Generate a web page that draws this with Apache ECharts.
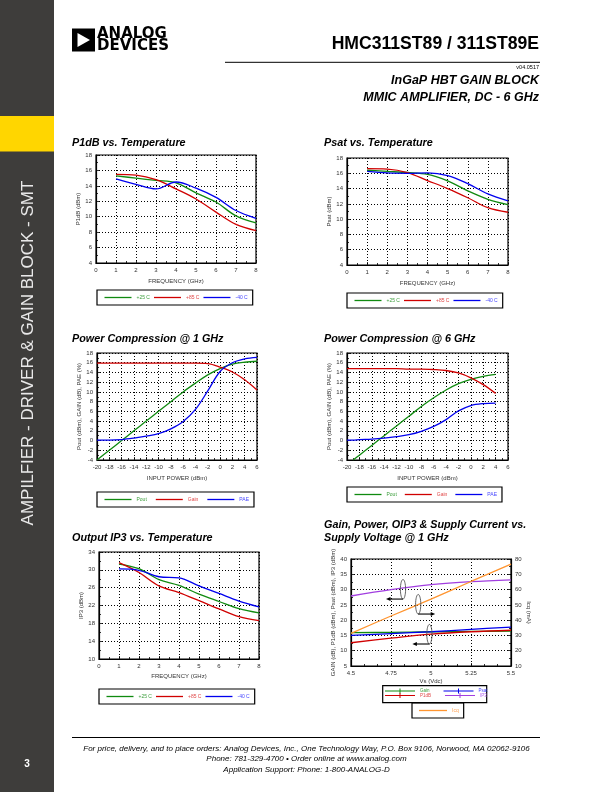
<!DOCTYPE html>
<html><head><meta charset="utf-8">
<script src="https://cdn.jsdelivr.net/npm/echarts@6/dist/echarts.min.js"></script>
<style>html,body{margin:0;padding:0;background:#fff}#c{width:612px;height:792px}</style>
</head><body><div id="c"></div>
<script>
// ---------- data ----------
const freq = [1, 2, 3, 4, 5, 6, 7, 8];
const p1dbP25 = [15.3, 15.0, 14.7, 14.4, 13.1, 11.9, 10.1, 9.2];
const p1dbP85 = [15.5, 15.4, 14.8, 13.6, 12.3, 10.6, 9.0, 8.2];
const p1dbM40 = [14.9, 14.2, 13.6, 14.5, 13.7, 12.5, 10.8, 9.8];
const psatP25 = [16.4, 16.25, 16.1, 15.85, 15.0, 13.7, 12.6, 11.9];
const psatP85 = [16.6, 16.55, 16.1, 15.05, 14.0, 12.8, 11.5, 10.9];
const psatM40 = [16.25, 16.05, 16.0, 16.05, 15.7, 14.65, 13.3, 12.4];
const pin1 = [-20, -18, -16, -14, -12, -10, -8, -6, -4, -2, 0, 2, 4, 6];
const pout1 = [-4, -2, 0, 2, 4, 6, 8, 10, 11.8, 13.5, 14.8, 15.7, 16.1, 16.3];
const gain1 = [15.9, 15.9, 15.9, 15.9, 15.9, 15.9, 15.9, 15.9, 15.9, 15.8, 15.1, 14.1, 12.5, 10.4];
const pae1 = [0.1, 0.1, 0.2, 0.5, 0.9, 1.4, 2.4, 3.9, 6.4, 10.2, 14.2, 16.0, 16.8, 17.1];
const pin6 = [-20, -19, -18, -16, -14, -12, -10, -8, -6, -4, -2, 0, 2, 4];
const pout6 = [null, -4, -3, -1, 1, 3, 5, 7, 8.8, 10.4, 11.7, 12.6, 13.2, 13.6];
const gain6 = [14.8, 14.8, 14.8, 14.8, 14.8, 14.8, 14.7, 14.7, 14.6, 14.4, 13.9, 12.9, 11.5, 9.7];
const pae6 = [0.1, 0.1, 0.2, 0.3, 0.5, 0.8, 1.2, 1.9, 2.9, 4.3, 6.1, 7.2, 7.6, 7.7];
const ip3P25 = [31.3, 30.25, 27.8, 26.5, 24.55, 22.9, 21.3, 20.35];
const ip3P85 = [31.6, 29.4, 26.4, 24.9, 23.1, 21.25, 19.5, 18.6];
const ip3M40 = [30.2, 29.9, 28.45, 28.2, 26.4, 24.7, 23.0, 21.7];
const vs = [4.5, 4.75, 5, 5.25, 5.5];
const gainV = [15.9, 16.0, 16.2, 16.3, 16.4];
const p1dbV = [12.6, 14.1, 15.4, 16.2, 16.7];
const psatV = [15.0, 15.6, 16.2, 17.0, 17.7];
const ip3V = [27.9, 30.0, 31.6, 32.6, 33.2];
const icqV = [31.4, 42.7, 53.8, 65.3, 76.7];
const tempNames = ['+25 C', '+85 C', '-40 C'];
const compNames = ['Pout', 'Gain', 'PAE'];
const vNames = ['Gain', 'P1dB', 'Psat', 'IP3', 'Icq'];

// ---------- styling ----------
const F = 'Liberation Sans, Arial, sans-serif';
const COL = { green: '#108a10', red: '#d00000', blue: '#0000ee', purple: '#a23fe0', orange: '#ff9530' };
const TXT = { green: '#3c9e3c', red: '#e04848', blue: '#4646ff', purple: '#b060f0', orange: '#ffa050' };
const grids = [
  { left: 96, top: 155, width: 160, height: 108 },
  { left: 347, top: 158, width: 161, height: 107 },
  { left: 97, top: 353, width: 160, height: 107 },
  { left: 347, top: 353, width: 161, height: 107 },
  { left: 99, top: 552, width: 160, height: 107 },
  { left: 351, top: 559, width: 160, height: 107 }
].map(g => Object.assign({ show: true, borderColor: '#000', borderWidth: 1.2, backgroundColor: 'transparent' }, g));

function ax(dim, gi, min, max, interval, name, gap, minor, extra) {
  return Object.assign({
    type: 'value', gridIndex: gi, min, max, interval, name,
    nameLocation: 'middle', nameGap: gap,
    nameRotate: dim === 'y' ? 90 : 0,
    nameTextStyle: { fontSize: 6, color: '#333', fontFamily: F },
    axisLine: { show: true, onZero: false, lineStyle: { color: '#000', width: 1.2 } },
    axisTick: { show: true, inside: true, length: 3, lineStyle: { color: '#000', width: 0.8 } },
    minorTick: { show: true, splitNumber: minor, length: 2, lineStyle: { color: '#000', width: 0.8 } },
    axisLabel: { fontSize: 6, color: '#333', margin: 4, fontFamily: F },
    splitLine: { show: true, lineStyle: { color: '#000', type: [1, 2], width: 1 } }
  }, extra || {});
}

const xAxis = [
  ax('x', 0, 0, 8, 1, 'FREQUENCY (GHz)', 15, 2),
  ax('x', 1, 0, 8, 1, 'FREQUENCY (GHz)', 15, 2),
  ax('x', 2, -20, 6, 2, 'INPUT POWER (dBm)', 15, 2),
  ax('x', 3, -20, 6, 2, 'INPUT POWER (dBm)', 15, 2),
  ax('x', 4, 0, 8, 1, 'FREQUENCY (GHz)', 14, 2),
  ax('x', 5, 4.5, 5.5, 0.25, 'Vs (Vdc)', 12, 3)
];
const yAxis = [
  ax('y', 0, 4, 18, 2, 'P1dB (dBm)', 15, 2),
  ax('y', 1, 4, 18, 2, 'Psat (dBm)', 15, 2),
  ax('y', 2, -4, 18, 2, 'Pout (dBm), GAIN (dB), PAE (%)', 15, 2),
  ax('y', 3, -4, 18, 2, 'Pout (dBm), GAIN (dB), PAE (%)', 15, 2),
  ax('y', 4, 10, 34, 4, 'IP3 (dBm)', 15, 2),
  ax('y', 5, 5, 40, 5, 'GAIN (dB), P1dB (dBm), Psat (dBm), IP3 (dBm)', 15, 2),
  ax('y', 5, 10, 80, 10, 'Icq (mA)', 14, 2, { position: 'right', nameRotate: -90, splitLine: { show: false } })
];

function ser(name, xs, ys, color, xi, yi) {
  return {
    type: 'line', name, xAxisIndex: xi, yAxisIndex: yi,
    data: xs.map((x, i) => [x, ys[i]]).filter(d => d[1] != null),
    smooth: 0.35, symbol: 'none', lineStyle: { color, width: 1.3 }, itemStyle: { color },
    z: 3, animation: false
  };
}
const series = [
  ser(tempNames[0], freq, p1dbP25, COL.green, 0, 0),
  ser(tempNames[1], freq, p1dbP85, COL.red, 0, 0),
  ser(tempNames[2], freq, p1dbM40, COL.blue, 0, 0),
  ser(tempNames[0], freq, psatP25, COL.green, 1, 1),
  ser(tempNames[1], freq, psatP85, COL.red, 1, 1),
  ser(tempNames[2], freq, psatM40, COL.blue, 1, 1),
  ser(compNames[0], pin1, pout1, COL.green, 2, 2),
  ser(compNames[1], pin1, gain1, COL.red, 2, 2),
  ser(compNames[2], pin1, pae1, COL.blue, 2, 2),
  ser(compNames[0], pin6, pout6, COL.green, 3, 3),
  ser(compNames[1], pin6, gain6, COL.red, 3, 3),
  ser(compNames[2], pin6, pae6, COL.blue, 3, 3),
  ser(tempNames[0], freq, ip3P25, COL.green, 4, 4),
  ser(tempNames[1], freq, ip3P85, COL.red, 4, 4),
  ser(tempNames[2], freq, ip3M40, COL.blue, 4, 4),
  ser(vNames[0], vs, gainV, COL.green, 5, 5),
  ser(vNames[1], vs, p1dbV, COL.red, 5, 5),
  ser(vNames[2], vs, psatV, COL.blue, 5, 5),
  ser(vNames[3], vs, ip3V, COL.purple, 5, 5),
  ser(vNames[4], vs, icqV, COL.orange, 5, 6)
];

const LINE_ICON = 'path://M0,0h27v1.3h-27z';
const TICK_ICON = 'path://M0,2h30v1h-30zM14.5,0h1v5h-1z';
function legend(left, top, names, keys, opts) {
  return Object.assign({
    left, top, orient: 'horizontal', selectedMode: false,
    icon: LINE_ICON, itemWidth: 27, itemHeight: 1.3, itemGap: 4,
    borderColor: '#000', borderWidth: 1.2, padding: [5, 5, 5, 7.5],
    textStyle: { fontSize: 5, fontFamily: F },
    data: names.map((n, i) => ({ name: n, itemStyle: { color: COL[keys[i]], borderWidth: 0 }, textStyle: { color: TXT[keys[i]], fontSize: (opts && opts.fs) || 5 } }))
  }, opts || {});
}
const tk = ['green', 'red', 'blue'];
const legends = [
  legend(97, 290, tempNames, tk),
  legend(347, 293, tempNames, tk),
  legend(97, 492, compNames, tk, { itemGap: 9 }),
  legend(347, 487, compNames, tk, { itemGap: 8 }),
  legend(99, 689, tempNames, tk),
  legend(385, 688.5, [vNames[0], vNames[2]], ['green', 'blue'], { borderWidth: 0, padding: 0, icon: TICK_ICON, itemWidth: 30, itemHeight: 5, itemGap: 14, fs: 4.5 }),
  legend(385, 693, [vNames[1], vNames[3]], ['red', 'purple'], { borderWidth: 0, padding: 0, icon: TICK_ICON, itemWidth: 30, itemHeight: 5, itemGap: 14, fs: 4.5 }),
  legend(412, 703, [vNames[4]], ['orange'], { padding: [5, 5, 5, 7], icon: 'path://M0,0h28v1.3h-28z', itemWidth: 28 })
];

// ---------- page decoration ----------
function T(text, x, y, size, opt) {
  opt = opt || {};
  return { type: 'text', x, y, rotation: opt.rot || 0, silent: true, z: 10, style: {
    text, fontSize: size, fontFamily: opt.ff || F, fontWeight: opt.w || 'normal', fontStyle: opt.i ? 'italic' : 'normal',
    fill: opt.c || '#000', align: opt.a || 'left', verticalAlign: 'middle' } };
}
const G = [
  { type: 'rect', shape: { x: 0, y: 0, width: 54, height: 792 }, style: { fill: '#3e3d3b' }, z: 1 },
  { type: 'rect', shape: { x: 0, y: 116, width: 54, height: 35.5 }, style: { fill: '#ffd600' }, z: 2 },
  T('AMPILFIER - DRIVER & GAIN BLOCK - SMT', 28, 353, 17, { rot: Math.PI / 2, a: 'center', c: '#e8e8e8' }),
  T('3', 27, 764, 10, { a: 'center', c: '#fff', w: 'bold' }),
  { type: 'rect', shape: { x: 72, y: 28.5, width: 23, height: 23 }, style: { fill: '#000' }, z: 5 },
  { type: 'polygon', shape: { points: [[77.5, 33], [77.5, 47], [90, 40]] }, style: { fill: '#fff' }, z: 6 },
  T('ANALOG', 97, 33.8, 15, { w: 'bold', ff: 'DejaVu Sans, sans-serif' }),
  T('DEVICES', 97, 46.2, 15, { w: 'bold', ff: 'DejaVu Sans, sans-serif' }),
  T('HMC311ST89 / 311ST89E', 539, 44, 17.6, { w: 'bold', a: 'right' }),
  { type: 'line', shape: { x1: 225, y1: 62.3, x2: 540, y2: 62.3 }, style: { stroke: '#000', lineWidth: 1 } },
  T('v04.0517', 539, 67, 5.5, { a: 'right' }),
  T('InGaP HBT GAIN BLOCK', 539, 81, 12.5, { w: 'bold', i: true, a: 'right' }),
  T('MMIC AMPLIFIER, DC - 6 GHz', 539, 97.5, 12.5, { w: 'bold', i: true, a: 'right' }),
  T('P1dB vs. Temperature', 72, 143, 10.8, { w: 'bold', i: true }),
  T('Psat vs. Temperature', 324, 143, 10.8, { w: 'bold', i: true }),
  T('Power Compression @ 1 GHz', 72, 339.5, 10.8, { w: 'bold', i: true }),
  T('Power Compression @ 6 GHz', 324, 339.5, 10.8, { w: 'bold', i: true }),
  T('Output IP3 vs. Temperature', 72, 538, 10.8, { w: 'bold', i: true }),
  T('Gain, Power, OIP3 & Supply Current vs.', 324, 525.5, 10.8, { w: 'bold', i: true }),
  T('Supply Voltage @ 1 GHz', 324, 538.5, 10.8, { w: 'bold', i: true }),
  { type: 'rect', shape: { x: 382.7, y: 685.7, width: 104, height: 17 }, style: { fill: 'none', stroke: '#000', lineWidth: 1.2 }, z: 4 },
  { type: 'line', shape: { x1: 72, y1: 737.5, x2: 540, y2: 737.5 }, style: { stroke: '#000', lineWidth: 1 } },
  T('For price, delivery, and to place orders: Analog Devices, Inc., One Technology Way, P.O. Box 9106, Norwood, MA 02062-9106', 306.5, 748.5, 8, { i: true, a: 'center' }),
  T('Phone: 781-329-4700 \u2022 Order online at www.analog.com', 306.5, 759, 8, { i: true, a: 'center' }),
  T('Application Support: Phone: 1-800-ANALOG-D', 306.5, 769.5, 8, { i: true, a: 'center' })
];

const chart = echarts.init(document.getElementById('c'), null, { renderer: 'canvas' });
chart.setOption({
  animation: false,
  backgroundColor: '#fff',
  grid: grids, xAxis, yAxis, series, legend: legends, graphic: G
});

// annotation ellipses + arrows on the supply-voltage chart, placed through the chart's scales
const notes = [
  { at: [4.825, 30.1], dir: -1 },
  { at: [4.92, 25.2], dir: 1 },
  { at: [4.99, 15.4], dir: -1 }
];
const A = [];
notes.forEach(n => {
  const p = chart.convertToPixel({ xAxisIndex: 5, yAxisIndex: 5 }, n.at);
  const ry = 9.8, len = 17;
  A.push({ type: 'ellipse', shape: { cx: p[0], cy: p[1], rx: 2.6, ry }, style: { fill: 'none', stroke: '#555', lineWidth: 0.9 }, z: 8 });
  const yb = p[1] + ry, xe = p[0] + n.dir * len;
  A.push({ type: 'line', shape: { x1: p[0], y1: yb, x2: xe - n.dir * 3, y2: yb }, style: { stroke: '#000', lineWidth: 1.1 }, z: 8 });
  A.push({ type: 'polygon', shape: { points: [[xe, yb], [xe - n.dir * 4.5, yb - 2], [xe - n.dir * 4.5, yb + 2]] }, style: { fill: '#000' }, z: 8 });
});
chart.setOption({ graphic: G.concat(A) });
</script>
</body></html>
